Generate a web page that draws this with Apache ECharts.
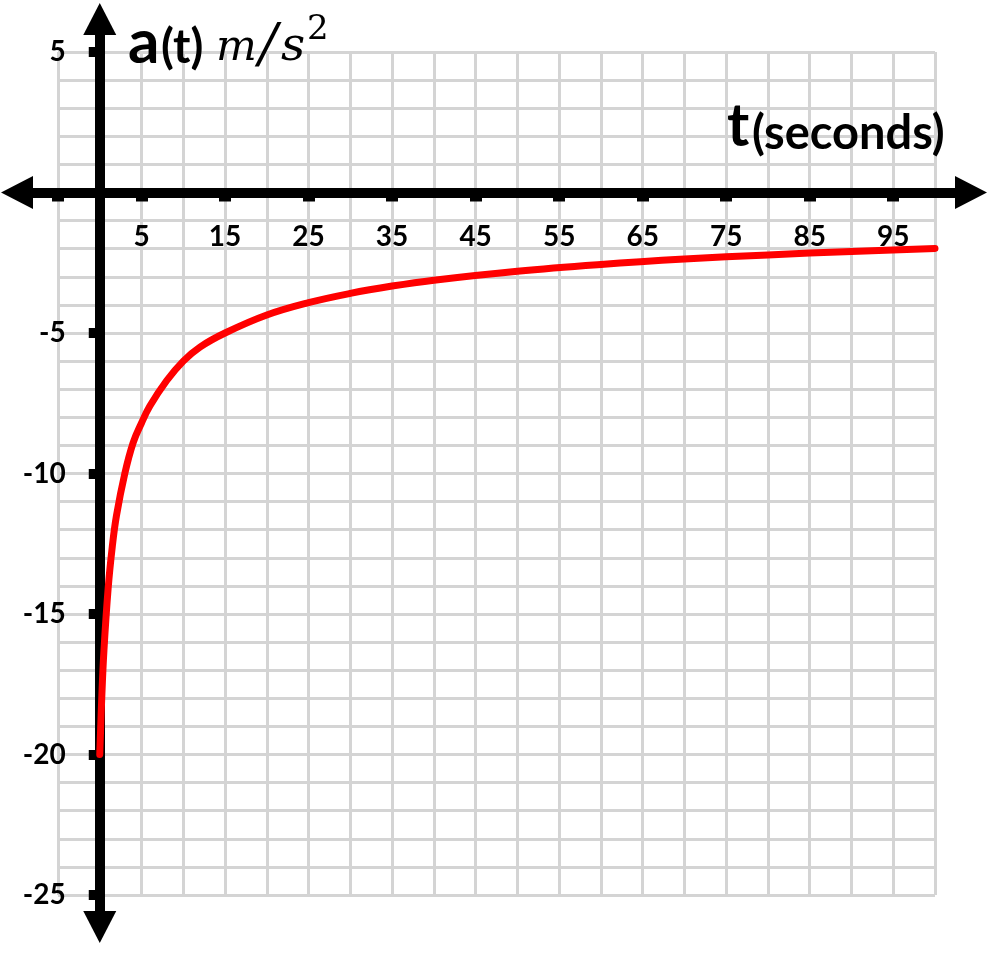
<!DOCTYPE html>
<html>
<head>
<meta charset="utf-8">
<script src="https://cdn.jsdelivr.net/npm/echarts@6/dist/echarts.min.js"></script>
<style>
  html, body { margin: 0; padding: 0; background: #fff; }
  #root { width: 1000px; height: 954px; }
</style>
</head>
<body>
<div id="root"></div>
<script>
// time in seconds and acceleration
const tValues = [0, 0.25, 0.5, 1, 1.5, 2, 3, 4, 5, 6, 8, 10, 12, 15, 20, 25, 30, 35, 40, 50, 60, 70, 80, 90, 100]
const aValues = [-20, -17.9, -16.3, -14.1, -12.6, -11.5, -10, -8.9, -8.2, -7.6, -6.7, -6.0, -5.5, -5.0, -4.36, -3.92, -3.59, -3.33, -3.12, -2.8, -2.56, -2.37, -2.22, -2.1, -1.99]

// tick marks and labels shown on the axes
const xTickValues = [-5, 5, 15, 25, 35, 45, 55, 65, 75, 85, 95]
const xLabelValues = [5, 15, 25, 35, 45, 55, 65, 75, 85, 95]
const yTickValues = [5, -5, -10, -15, -20, -25]
const yLabelValues = [5, -5, -10, -15, -20, -25]

const W = 1000, H = 954
// main plot box (grid lines)
const G = { left: 58, right: 65, top: 52, bottom: 59 }
// box for the long arrowed axes
const A = { left: 17, right: 29, top: 19, bottom: 27 }
const X_MIN = -5, X_MAX = 100, Y_MIN = -25, Y_MAX = 5

const sx = (W - G.left - G.right) / (X_MAX - X_MIN)
const sy = (H - G.top - G.bottom) / (Y_MAX - Y_MIN)
// pixel position of t = 0 and a = 0
const x0 = G.left + (0 - X_MIN) * sx
const y0 = G.top + (Y_MAX - 0) * sy

const labelFont = { fontFamily: 'Lato', fontWeight: 'bold', fontSize: 28, color: '#000' }
const gridLine = { lineStyle: { color: '#d4d4d4', width: 3 } }
const arrowLine = {
  show: true, onZero: true,
  symbol: ['triangle', 'triangle'], symbolSize: [33, 32],
  lineStyle: { color: '#000', width: 10 }
}
const hidden = {
  axisLine: { show: false, onZero: false }, axisTick: { show: false },
  axisLabel: { show: false }, splitLine: { show: false }
}
const noBounds = { containLabel: false, outerBoundsMode: 'none' }

function txt(text, x, baseline, font) {
  const size = parseFloat(font.match(/(\d+)px/)[1])
  return {
    type: 'text', x: x, y: baseline - 0.31 * size, z: 10,
    style: { text: text, font: font, fill: '#000', verticalAlign: 'middle', align: 'left' }
  }
}

const chart = echarts.init(document.getElementById('root'))
chart.setOption({
  animation: false,
  grid: [
    { left: G.left, right: G.right, top: G.top, bottom: G.bottom, ...noBounds },
    { left: A.left, right: A.right, top: A.top, bottom: A.bottom, ...noBounds },
    // x labels sit just under the a = 0 line
    { left: G.left, right: G.right, top: G.top, bottom: H - y0, ...noBounds },
    // y labels sit just left of the t = 0 line
    { left: x0, right: G.right, top: G.top, bottom: G.bottom, ...noBounds }
  ],
  xAxis: [
    {
      type: 'value', gridIndex: 0, min: X_MIN, max: X_MAX, interval: 5,
      axisLine: { show: false }, axisTick: { show: false }, axisLabel: { show: false },
      splitLine: gridLine
    },
    {
      type: 'value', gridIndex: 1,
      min: X_MIN + (A.left - G.left) / sx,
      max: X_MAX + (G.right - A.right) / sx,
      axisLine: arrowLine,
      axisTick: { show: true, customValues: xTickValues, length: 9, lineStyle: { color: '#000', width: 12 } },
      axisLabel: { show: false },
      splitLine: { show: false }
    },
    {
      type: 'value', gridIndex: 2, position: 'bottom', min: X_MIN, max: X_MAX,
      ...hidden,
      axisLabel: { show: true, customValues: xLabelValues, margin: 30, ...labelFont }
    },
    { type: 'value', gridIndex: 3, min: 0, max: 1, ...hidden }
  ],
  yAxis: [
    {
      type: 'value', gridIndex: 0, min: Y_MIN, max: Y_MAX, interval: 1,
      axisLine: { show: false }, axisTick: { show: false }, axisLabel: { show: false },
      splitLine: gridLine
    },
    {
      type: 'value', gridIndex: 1,
      min: Y_MIN - (G.bottom - A.bottom) / sy,
      max: Y_MAX + (G.top - A.top) / sy,
      axisLine: arrowLine,
      axisTick: { show: true, customValues: yTickValues, length: 11, lineStyle: { color: '#000', width: 10 } },
      axisLabel: { show: false },
      splitLine: { show: false }
    },
    { type: 'value', gridIndex: 2, min: 0, max: 1, ...hidden },
    {
      type: 'value', gridIndex: 3, position: 'left', min: Y_MIN, max: Y_MAX,
      ...hidden,
      axisLabel: { show: true, customValues: yLabelValues, margin: 34, ...labelFont }
    }
  ],
  series: [
    {
      type: 'line', xAxisIndex: 0, yAxisIndex: 0,
      data: tValues.map((t, i) => [t, aValues[i]]),
      smooth: 0.4, showSymbol: false, symbol: 'none',
      lineStyle: { color: '#ff0000', width: 7, cap: 'round' },
      z: 5
    }
  ],
  graphic: [
    txt('a', 128, 62, 'bold 62px Lato'),
    txt('(t)', 161, 62, 'bold 47px Lato'),
    txt('m', 216, 62, 'italic 43px "DejaVu Serif"'),
    txt('/', 259, 65, 'italic 54px "DejaVu Serif"'),
    txt('s', 281, 62, 'italic 47px "DejaVu Serif"'),
    txt('2', 307, 41, '34px "DejaVu Serif"'),
    txt('t', 727, 145, 'bold 60px Lato'),
    txt('(seconds)', 752, 148, 'bold 47px Lato')
  ]
})
</script>
</body>
</html>
